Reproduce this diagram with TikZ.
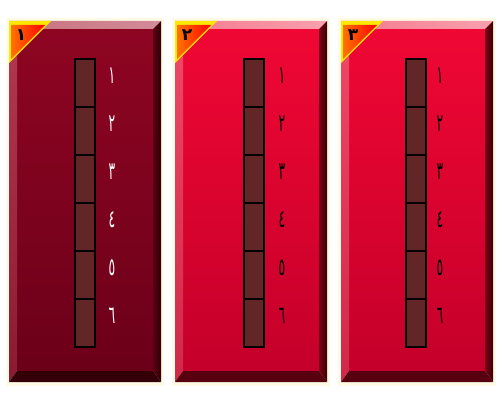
\documentclass[tikz,border=0pt]{standalone}
\usepackage{fontspec}
\newfontfamily\digitfont[Script=Arabic]{DejaVu Sans}
\newfontfamily\numfont[Script=Arabic]{DejaVu Sans Bold}
\definecolor{glow}{HTML}{FDFAE6}
\definecolor{cellfill}{HTML}{622626}
\tikzset{
  cellbox/.style={draw=black,line width=2.7pt,fill=cellfill,minimum width=20pt,minimum height=48pt,inner sep=0pt,outer sep=0pt},
  digit/.style={inner sep=0pt,font=\digitfont\fontsize{14.5}{14.5}\selectfont,xscale=0.85,yscale=1.7},
  pnum/.style={inner sep=0pt,font=\numfont\fontsize{17}{17}\selectfont}
}
% #1 = left x, #2 = column x (left), #3 = label x, #4 = panel number, #5 = label colour, #6 = name
\newcommand\drawpanel[6]{%
  \fill[glow] (#1-3,18) rectangle (#1+155,386);
  \coordinate (#6A) at (#1,21);
  \coordinate (#6B) at (#1+152,21);
  \coordinate (#6C) at (#1+152,382);
  \coordinate (#6D) at (#1,382);
  \coordinate (#6a) at (#1+8,29);
  \coordinate (#6b) at (#1+144,29);
  \coordinate (#6c) at (#1+144,371);
  \coordinate (#6d) at (#1+8,371);
  \shade[top color=facetop,bottom color=facebot] (#6a) rectangle (#6c);
  \shade[left color=bandtopL,right color=bandtopR] (#6A) -- (#6B) -- (#6b) -- (#6a) -- cycle;
  \shade[top color=bandleftT,bottom color=bandleftB] (#6A) -- (#6a) -- (#6d) -- (#6D) -- cycle;
  \shade[left color=bandright,right color=bandrightO] (#6B) -- (#6C) -- (#6c) -- (#6b) -- cycle;
  \fill[bandbottom] (#6D) -- (#6d) -- (#6c) -- (#6C) -- cycle;
  \fill[yellow!90!orange] (#6A) -- ++(42,0) -- ++(-42,42) -- cycle;
  \shade[left color=orange!90!red,right color=red] (#1+2,25) -- ++(34,0) -- ++(-34,34) -- cycle;
  \node[pnum] (#6num) at (#1+12,35) {#4};
  \foreach \i/\d in {0/١,1/٢,2/٣,3/٤,4/٥,5/٦}{
    \node[cellbox,anchor=north west] (#6cell\i) at (#2,59+48*\i) {};
    \node[digit,text=#5] (#6lab\i) at (#3,76+48*\i) {\d};
  }
}
\begin{document}
\begin{tikzpicture}[x=1pt,y=-1pt]
\useasboundingbox (0,0) rectangle (500,412);
\fill[white] (0,0) rectangle (500,412);
% panel 1
\definecolor{facetop}{HTML}{8E0522}
\definecolor{facebot}{HTML}{6C0019}
\definecolor{bandtopL}{HTML}{C8707E}
\definecolor{bandtopR}{HTML}{D38C98}
\definecolor{bandleftT}{HTML}{B23A52}
\definecolor{bandleftB}{HTML}{8A1A30}
\definecolor{bandright}{HTML}{5A0012}
\definecolor{bandrightO}{HTML}{2E0006}
\definecolor{bandbottom}{HTML}{330008}
\drawpanel{9}{75}{112}{١}{white}{p1}
% panels 2 and 3
\definecolor{facetop}{HTML}{F00734}
\definecolor{facebot}{HTML}{C4002A}
\definecolor{bandtopL}{HTML}{F4788E}
\definecolor{bandtopR}{HTML}{F8A0AE}
\definecolor{bandleftT}{HTML}{F04A68}
\definecolor{bandleftB}{HTML}{D02848}
\definecolor{bandright}{HTML}{7A0014}
\definecolor{bandrightO}{HTML}{3C0008}
\definecolor{bandbottom}{HTML}{560010}
\drawpanel{175}{244}{282}{٢}{black}{p2}
\drawpanel{341}{406}{440}{٣}{black}{p3}
\end{tikzpicture}
\end{document}
